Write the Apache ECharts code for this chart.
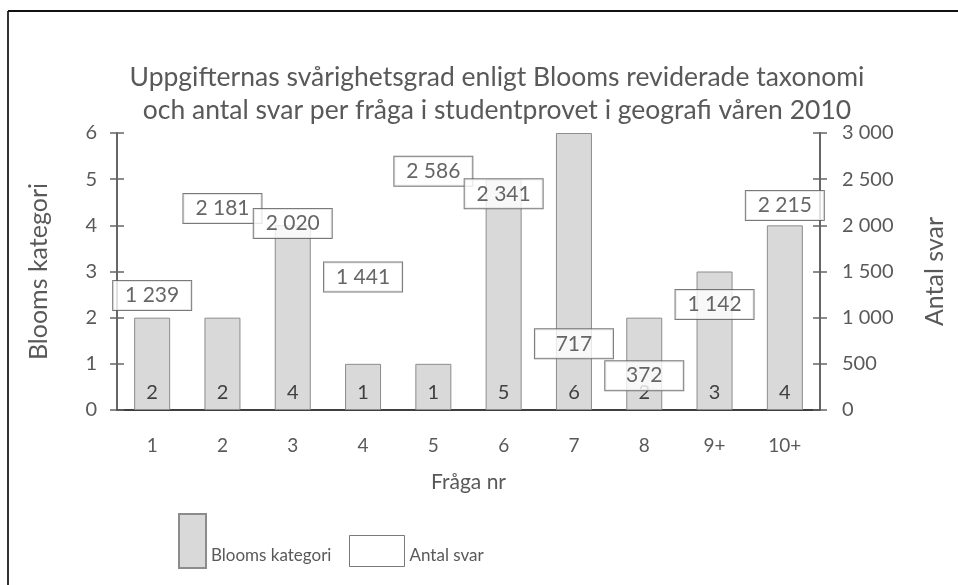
<!DOCTYPE html>
<html>
<head>
<meta charset="utf-8">
<script src="https://cdn.jsdelivr.net/npm/echarts@6/dist/echarts.min.js"></script>
<style>
  html, body { margin: 0; padding: 0; background: #fff; }
  #container { width: 958px; height: 585px; }
</style>
</head>
<body>
<div id="container"></div>
<script>
var categories = ['1', '2', '3', '4', '5', '6', '7', '8', '9+', '10+'];
var bloomsValues = [2, 2, 4, 1, 1, 5, 6, 2, 3, 4];
var antalValues = [1239, 2181, 2020, 1441, 2586, 2341, 717, 372, 1142, 2215];

var dom = document.getElementById('container');
var myChart = echarts.init(dom, null, { renderer: 'canvas' });

var font = 'Lato';
var textColor = '#595959';
var axisColor = '#666';

function fmt(v) {
    return String(v).replace(/\B(?=(\d{3})+(?!\d))/g, ' ');
}

var option = {
    animation: false,
    textStyle: { fontFamily: font },
    title: {
        text: 'Uppgifternas svårighetsgrad enligt Blooms reviderade taxonomi\noch antal svar per fråga i studentprovet i geografi våren 2010',
        left: 492,
        top: 56,
        textAlign: 'center',
        textStyle: { fontFamily: font, fontSize: 26.5, fontWeight: 'normal', color: textColor, lineHeight: 33 }
    },
    legend: [
        {
            data: [{ name: 'Blooms kategori', icon: 'rect' }],
            left: 178, top: 513, padding: 0,
            itemWidth: 27, itemHeight: 54,
            formatter: '{a|{name}}',
            textStyle: {
                fontFamily: font, fontSize: 17, color: textColor,
                rich: { a: { fontFamily: font, fontSize: 17, color: textColor, padding: [30, 0, 0, 0] } }
            }
        },
        {
            data: [{ name: 'Antal svar', icon: 'rect', itemStyle: { color: '#fff', borderColor: '#595959', borderWidth: 1 } }],
            left: 349, top: 535, padding: 0,
            itemWidth: 55, itemHeight: 31,
            formatter: '{a|{name}}',
            textStyle: {
                fontFamily: font, fontSize: 17, color: textColor,
                rich: { a: { fontFamily: font, fontSize: 17, color: textColor, padding: [10, 0, 0, 0] } }
            }
        }
    ],
    graphic: [
        { type: 'line', shape: { x1: 8, y1: 11, x2: 8, y2: 585 }, style: { stroke: '#333', lineWidth: 2 } },
        { type: 'line', shape: { x1: 8, y1: 11, x2: 958, y2: 11 }, style: { stroke: '#111', lineWidth: 2 } }
    ],
    grid: { left: 117, right: 138, top: 133, bottom: 175 },
    xAxis: {
        type: 'category',
        data: categories,
        name: 'Fråga nr',
        nameLocation: 'middle',
        nameGap: 62,
        nameTextStyle: { fontFamily: font, fontSize: 21, color: textColor },
        axisLine: { lineStyle: { color: '#000', width: 1.5 } },
        axisTick: { show: false },
        axisLabel: { margin: 26, fontFamily: font, fontSize: 19, color: textColor }
    },
    yAxis: [
        {
            type: 'value', min: 0, max: 6, interval: 1, position: 'left',
            name: 'Blooms kategori', nameLocation: 'middle', nameGap: 66,
            nameTextStyle: { fontFamily: font, fontSize: 25, color: textColor },
            axisLine: { show: true, lineStyle: { color: axisColor, width: 2 } },
            axisTick: { show: true, length: 7, lineStyle: { color: axisColor, width: 1.5 } },
            axisLabel: { margin: 20, fontFamily: font, fontSize: 20, color: textColor },
            splitLine: { show: false }
        },
        {
            type: 'value', min: 0, max: 3000, interval: 500, position: 'right',
            name: 'Antal svar', nameLocation: 'middle', nameGap: 102,
            nameTextStyle: { fontFamily: font, fontSize: 25, color: textColor },
            axisLine: { show: true, lineStyle: { color: axisColor, width: 2 } },
            axisTick: { show: true, length: 7, lineStyle: { color: axisColor, width: 1.5 } },
            axisLabel: { margin: 22, fontFamily: font, fontSize: 20, color: textColor, formatter: fmt },
            splitLine: { show: false }
        },
        {
            type: 'value', min: 0, max: 6, interval: 1, position: 'left',
            axisLine: { show: false },
            axisTick: { show: true, inside: true, length: 7, lineStyle: { color: axisColor, width: 1.5 } },
            axisLabel: { show: false },
            splitLine: { show: false }
        },
        {
            type: 'value', min: 0, max: 3000, interval: 500, position: 'right',
            axisLine: { show: false },
            axisTick: { show: true, inside: true, length: 7, lineStyle: { color: axisColor, width: 1.5 } },
            axisLabel: { show: false },
            splitLine: { show: false }
        }
    ],
    series: [
        {
            name: 'Blooms kategori',
            type: 'bar',
            yAxisIndex: 0,
            data: bloomsValues,
            barWidth: 36,
            itemStyle: { color: '#d9d9d9', borderColor: '#8c8c8c', borderWidth: 1 },
            label: {
                show: true, position: 'insideBottom', distance: 7,
                fontFamily: font, fontSize: 20, color: '#404040'
            }
        },
        {
            name: 'Antal svar',
            type: 'scatter',
            yAxisIndex: 1,
            data: antalValues,
            symbolSize: 1,
            itemStyle: { color: 'rgba(0,0,0,0)' },
            z: 3,
            label: {
                show: true, position: 'inside',
                formatter: function (p) { return fmt(p.value); },
                backgroundColor: '#fff', borderColor: '#595959', borderWidth: 1,
                width: 78, height: 29, lineHeight: 29, align: 'center',
                fontFamily: font, fontSize: 21, color: '#404040'
            }
        }
    ]
};

myChart.setOption(option);
window.addEventListener('resize', myChart.resize);
</script>
</body>
</html>
